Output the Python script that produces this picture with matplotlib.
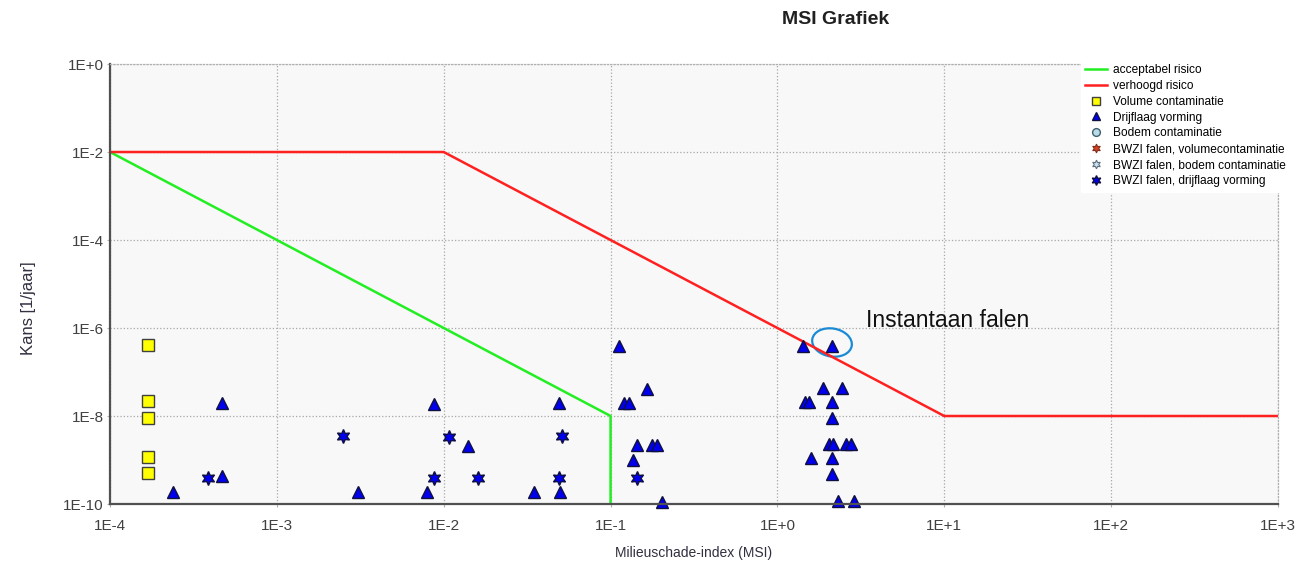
import matplotlib
matplotlib.use("Agg")
import matplotlib.pyplot as plt
import matplotlib.transforms as mtransforms
from matplotlib.patches import Ellipse

plt.rcParams['font.family'] = ['Liberation Sans', 'DejaVu Sans']

# risk boundaries
accept_x = [1e-4, 1e-1, 1e-1]
accept_y = [1e-2, 1e-8, 1e-10]
verhoogd_x = [1e-4, 1e-2, 1e1, 1e3]
verhoogd_y = [1e-2, 1e-2, 1e-8, 1e-8]

# Volume contaminatie
vol_x = [1.68e-4, 1.68e-4, 1.68e-4, 1.68e-4, 1.68e-4]
vol_y = [4.1e-7, 2.2e-8, 9.1e-9, 1.15e-9, 5.0e-10]

# Drijflaag vorming
drijf_x = [2.37e-4, 4.7e-4, 4.7e-4, 3.08e-3, 8.8e-3, 4.93e-2, 1.4e-2, 7.9e-3,
           3.5e-2, 5.0e-2, 0.113, 0.165, 0.12, 0.1286, 0.1445, 0.178, 0.19,
           0.136, 0.204, 1.43, 2.11, 1.87, 2.43, 1.47, 1.54, 2.11, 2.11, 2.04,
           2.16, 2.59, 2.75, 1.58, 2.11, 2.11, 2.32, 2.88]
drijf_y = [1.9e-10, 1.95e-8, 4.4e-10, 1.9e-10, 1.85e-8, 1.95e-8, 2.1e-9, 1.85e-10,
           1.9e-10, 1.9e-10, 3.8e-7, 4.1e-8, 1.95e-8, 1.95e-8, 2.2e-9, 2.2e-9, 2.2e-9,
           1.02e-9, 1.12e-10, 3.9e-7, 3.9e-7, 4.3e-8, 4.3e-8, 2.1e-8, 2.1e-8, 2.1e-8,
           8.9e-9, 2.3e-9, 2.3e-9, 2.3e-9, 2.3e-9, 1.1e-9, 1.1e-9, 4.8e-10,
           1.18e-10, 1.18e-10]

# Bodem contaminatie / BWZI series without points
bodem_x, bodem_y = [], []
bwzi_vol_x, bwzi_vol_y = [], []
bwzi_bodem_x, bwzi_bodem_y = [], []

# BWZI falen, drijflaag vorming
bwzi_x = [3.84e-4, 2.48e-3, 1.08e-2, 5.13e-2, 8.7e-3, 1.6e-2, 4.93e-2, 0.145]
bwzi_y = [3.8e-10, 3.45e-9, 3.25e-9, 3.45e-9, 3.8e-10, 3.8e-10, 3.8e-10, 3.8e-10]

# highlighted point
instant_x, instant_y = 2.11, 3.9e-7

x_ticks = [1e-4, 1e-3, 1e-2, 1e-1, 1e0, 1e1, 1e2, 1e3]
x_labels = ['1E-4', '1E-3', '1E-2', '1E-1', '1E+0', '1E+1', '1E+2', '1E+3']
y_ticks = [1e0, 1e-2, 1e-4, 1e-6, 1e-8, 1e-10]
y_labels = ['1E+0', '1E-2', '1E-4', '1E-6', '1E-8', '1E-10']

fig = plt.figure(figsize=(13.13, 5.61), dpi=100)
ax = fig.add_axes([0.0838, 0.1016, 0.8895, 0.7843])
ax.set_facecolor('#f8f8f8')
ax.set_xscale('log')
ax.set_yscale('log')
ax.set_xlim(1e-4, 1e3)
ax.set_ylim(1e-10, 1e0)

ax.grid(True, which='major', linestyle=':', color='#a8a8a8', linewidth=0.9)
ax.set_axisbelow(True)
for s in ['top', 'right']:
    ax.spines[s].set_linestyle(':')
    ax.spines[s].set_color('#b0b0b0')
    ax.spines[s].set_linewidth(0.9)
for s in ['left', 'bottom']:
    ax.spines[s].set_color('#505050')
    ax.spines[s].set_linewidth(1.6)

ax.set_xticks(x_ticks)
ax.set_xticklabels(x_labels)
ax.set_yticks(y_ticks)
ax.set_yticklabels(y_labels)
ax.minorticks_off()
ax.tick_params(axis='both', length=2.5, color='#b0b0b0', labelsize=11,
               labelcolor='#404040')
ax.tick_params(axis='x', pad=8)
ax.tick_params(axis='y', pad=2)

ax.plot(accept_x, accept_y, color='#22ee22', lw=1.8, label='acceptabel risico')
ax.plot(verhoogd_x, verhoogd_y, color='#ff2020', lw=1.8, label='verhoogd risico')

ax.plot(vol_x, vol_y, 's', ms=8, mfc='#ffff00', mec='#404040', mew=1.0,
        label='Volume contaminatie', clip_on=False)
ax.plot(drijf_x, drijf_y, '^', ms=9, mfc='#0000ee', mec='#101040', mew=1.0,
        label='Drijflaag vorming', clip_on=False)
ax.plot(bodem_x, bodem_y, 'o', ms=8, mfc='#b8dde6', mec='#406070', mew=1.0,
        label='Bodem contaminatie')
ax.plot(bwzi_vol_x, bwzi_vol_y, marker=(6, 1, 0), ls='none', ms=9, mfc='#d84020',
        mec='#803020', mew=0.8, label='BWZI falen, volumecontaminatie')
ax.plot(bwzi_bodem_x, bwzi_bodem_y, marker=(6, 1, 0), ls='none', ms=9, mfc='#c8e4ec',
        mec='#607080', mew=0.8, label='BWZI falen, bodem contaminatie')
ax.plot(bwzi_x, bwzi_y, marker=(6, 1, 0), ls='none', ms=10, mfc='#0000ee',
        mec='#101040', mew=1.0, label='BWZI falen, drijflaag vorming', clip_on=False)

ax.set_xlabel('Milieuschade-index (MSI)', fontsize=10, color='#303040', labelpad=10)
ax.set_ylabel('Kans [1/jaar]', fontsize=12, color='#303040')
ax.yaxis.set_label_coords(-0.063, 0.445)

leg = ax.legend(loc='upper left', bbox_to_anchor=(0.826, 1.024), fontsize=8.6,
                frameon=True, fancybox=False, edgecolor='white', facecolor='white',
                framealpha=1.0, handlelength=1.8, handletextpad=0.5,
                labelspacing=0.32, markerscale=0.7, borderpad=0.4)

# ellipse around the instantaneous-failure point
ell_trans = fig.dpi_scale_trans + mtransforms.ScaledTranslation(instant_x, instant_y, ax.transData)
ax.add_patch(Ellipse((0.005, 0.035), 0.40, 0.28, angle=-10, fill=False,
                     edgecolor='#1a8ad4', lw=1.6, transform=ell_trans, clip_on=False))
ax.annotate('Instantaan falen', (instant_x, instant_y), xytext=(34, 25),
            textcoords='offset pixels', fontsize=16.5, color='#111111',
            ha='left', va='center')

fig.text(836 / 1313, 1 - 20 / 561, 'MSI Grafiek', fontsize=14, fontweight='bold',
         ha='center', va='center', color='#202020')

fig.savefig('out.png', dpi=100)
